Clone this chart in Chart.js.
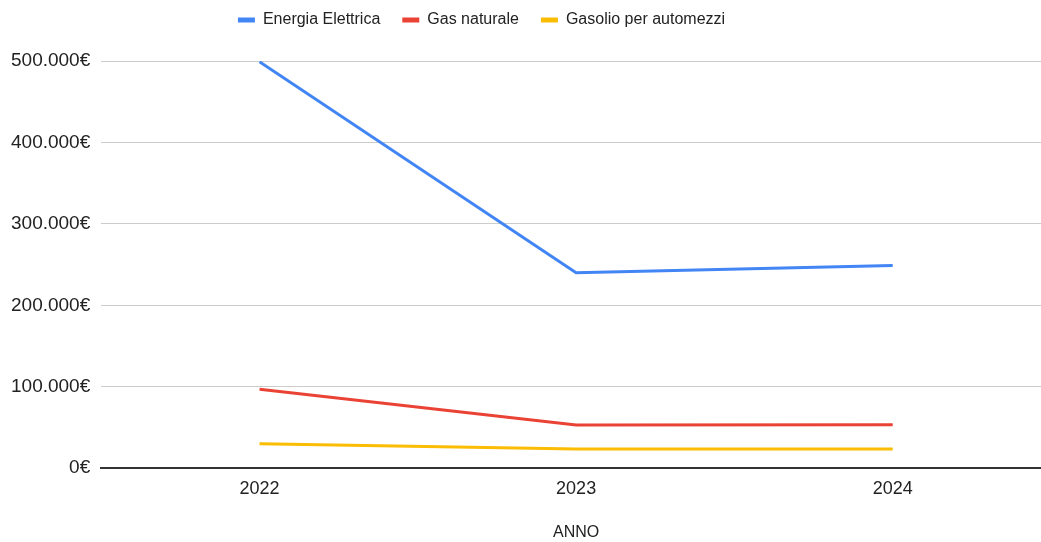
<!DOCTYPE html>
<html>
<head>
<meta charset="utf-8">
<script src="https://cdn.jsdelivr.net/npm/chart.js@4/dist/chart.umd.min.js"></script>
<style>
  html, body { margin: 0; padding: 0; background: #fff; overflow: hidden; }
  #wrap { width: 1051px; height: 542px; position: relative; }
</style>
</head>
<body>
<div id="wrap"><canvas id="c"></canvas></div>
<script>
// Anni e spese annue per vettore energetico (€)
const anni = ['2022', '2023', '2024'];
const energiaElettrica = [499000, 240000, 249000];
const gasNaturale = [97000, 53000, 53500];
const gasolioAutomezzi = [30000, 23500, 23500];

const nomiSerie = ['Energia Elettrica', 'Gas naturale', 'Gasolio per automezzi'];
const coloriSerie = ['#4285F4', '#EA4335', '#FBBC04'];

function euro(v) {
  const s = Math.round(v).toString().replace(/\B(?=(\d{3})+(?!\d))/g, '.');
  return s + '€';
}

// sposta la legenda verso l'alto e verso sinistra
const spostaLegenda = {
  id: 'spostaLegenda',
  afterLayout(chart) {
    const lg = chart.legend;
    if (lg) {
      lg.left -= 44; lg.right -= 44;
      lg.top -= 23; lg.bottom -= 23;
    }
  }
};

const serie = [energiaElettrica, gasNaturale, gasolioAutomezzi];
const FONT = 'Liberation Sans, Arial, sans-serif';

new Chart(document.getElementById('c'), {
  type: 'line',
  data: {
    labels: anni,
    datasets: serie.map((d, i) => ({
      label: nomiSerie[i],
      data: d,
      borderColor: coloriSerie[i],
      backgroundColor: coloriSerie[i],
      borderWidth: 3,
      pointRadius: 0,
      pointHoverRadius: 0,
      tension: 0,
      fill: false
    }))
  },
  options: {
    responsive: true,
    maintainAspectRatio: false,
    animation: false,
    layout: { padding: { left: 0, right: 0, top: 13, bottom: 0 } },
    plugins: {
      legend: {
        position: 'top',
        labels: {
          boxWidth: 17,
          boxHeight: 5,
          padding: 22,
          color: '#222',
          font: { family: FONT, size: 16 },
          generateLabels(chart) {
            const items = Chart.defaults.plugins.legend.labels.generateLabels(chart);
            items.forEach(it => { it.lineWidth = 0; });
            return items;
          }
        }
      },
      tooltip: { enabled: false }
    },
    scales: {
      x: {
        offset: true,
        grid: { display: false },
        border: { display: true, color: '#333', width: 2 },
        ticks: {
          color: '#222',
          padding: 2,
          font: { family: FONT, size: 18 }
        },
        title: {
          display: true,
          text: 'ANNO',
          color: '#222',
          padding: { top: 21, bottom: 0 },
          font: { family: FONT, size: 16 }
        }
      },
      y: {
        min: 0,
        max: 500000,
        grid: { color: '#cccccc', lineWidth: 1, drawTicks: false },
        border: { display: false },
        ticks: {
          stepSize: 100000,
          color: '#222',
          padding: 11,
          callback: v => euro(v),
          font: { family: FONT, size: 19 }
        }
      }
    }
  },
  plugins: [spostaLegenda]
});
</script>
</body>
</html>
